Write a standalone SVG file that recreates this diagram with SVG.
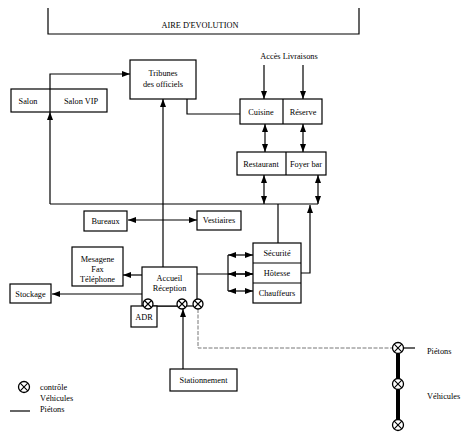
<svg xmlns="http://www.w3.org/2000/svg" width="471" height="439" viewBox="0 0 471 439">
<defs>
<marker id="ah" viewBox="0 0 8 6" refX="8" refY="3" markerWidth="8" markerHeight="6" markerUnits="userSpaceOnUse" orient="auto-start-reverse">
<path d="M0,0 L8,3 L0,6 z" fill="#000"/>
</marker>
<style>
rect.b{fill:#fff;stroke:#000;stroke-width:1.2}
text{font-family:"Liberation Serif","DejaVu Serif",serif;font-size:8.3px;fill:#000;text-anchor:middle}
.l{stroke:#000;stroke-width:1.2;fill:none}
.a{marker-end:url(#ah)}
.d{marker-start:url(#ah);marker-end:url(#ah)}
.x circle{fill:#fff;stroke:#000;stroke-width:1.3}
.x path{stroke:#000;stroke-width:1.1}
</style>
</defs>
<rect width="471" height="439" fill="#fff"/>

<g id="aire">
<path class="l" d="M48,8 V34 H359 V8"/>
<text x="200" y="28">AIRE D'EVOLUTION</text>
</g>

<g id="connectors">
<path class="l a" d="M50,89 V74 H130"/>
<path class="l a" d="M50,204 V112"/>
<path class="l" d="M50,204 H318"/>
<path class="l a" d="M163,267 V99"/>
<path class="l" d="M187,99 V114 H240"/>
<path class="l a" d="M264,65 V99"/>
<path class="l a" d="M303,65 V99"/>
<path class="l d" d="M265,124 V152"/>
<path class="l d" d="M303,124 V152"/>
<path class="l d" d="M264,175 V204"/>
<path class="l d" d="M318,175 V204"/>
<path class="l d" d="M128,220 H197"/>
<path class="l a" d="M142,275 H123"/>
<path class="l a" d="M142,294 H52"/>
<path class="l a" d="M197,274 H253" stroke-width="1.6"/>
<path class="l" d="M228,255 V291"/>
<path class="l d" d="M228,255 H253"/>
<path class="l d" d="M228,274 H253"/>
<path class="l d" d="M228,291 H253"/>
<path class="l" d="M278,204 V243"/>
<path class="l a" d="M301,273 H310 V205"/>
<path class="l" d="M153,306 H177"/>
<path class="l a" d="M183,369 V309"/>
<path stroke="#777" stroke-width="1" fill="none" stroke-dasharray="4,1.5" d="M198,309 V348 H393"/>
<path stroke="#000" stroke-width="4" d="M398,353 V420"/>
<path class="l" d="M403,348 H415"/>
<path class="l" d="M10,411 H30"/>
</g>

<g id="salon">
<rect class="b" x="11" y="89" width="96" height="23"/>
<line class="l" x1="50" y1="89" x2="50" y2="112"/>
<text x="28" y="104">Salon</text>
<text x="81" y="104">Salon VIP</text>
</g>

<g id="tribunes">
<rect class="b" x="130" y="60" width="66" height="39"/>
<text x="163" y="76">Tribunes</text>
<text x="163" y="87">des officiels</text>
</g>

<g id="livraisons">
<text x="289" y="59">Accès Livraisons</text>
</g>

<g id="cuisine">
<rect class="b" x="240" y="99" width="82" height="25"/>
<line class="l" x1="283" y1="99" x2="283" y2="124"/>
<text x="261" y="115">Cuisine</text>
<text x="303" y="115">Réserve</text>
</g>

<g id="restaurant">
<rect class="b" x="237" y="152" width="89" height="23"/>
<line class="l" x1="286" y1="152" x2="286" y2="175"/>
<text x="261" y="167">Restaurant</text>
<text x="306" y="167">Foyer bar</text>
</g>

<g id="bureaux">
<rect class="b" x="84" y="211" width="43" height="20"/>
<text x="105.5" y="224">Bureaux</text>
</g>

<g id="vestiaires">
<rect class="b" x="197" y="211" width="44" height="19"/>
<text x="219" y="223">Vestiaires</text>
</g>

<g id="mesagerie">
<rect class="b" x="72" y="247" width="51" height="39"/>
<text x="97.5" y="262">Mesagene</text>
<text x="97.5" y="272">Fax</text>
<text x="97.5" y="282">Téléphone</text>
</g>

<g id="stockage">
<rect class="b" x="10" y="284" width="41" height="19"/>
<text x="30.5" y="297">Stockage</text>
</g>

<g id="accueil">
<rect class="b" x="142" y="267" width="55" height="39"/>
<text x="169.5" y="281">Accueil</text>
<text x="169.5" y="291">Réception</text>
</g>

<g id="adr">
<rect class="b" x="131" y="306" width="26" height="21"/>
<text x="144" y="320">ADR</text>
</g>

<g id="securite">
<rect class="b" x="253" y="243" width="48" height="60"/>
<line class="l" x1="253" y1="263" x2="301" y2="263"/>
<line class="l" x1="253" y1="283" x2="301" y2="283"/>
<text x="277" y="256">Sécurité</text>
<text x="277" y="276">Hôtesse</text>
<text x="277" y="296">Chauffeurs</text>
</g>

<g id="stationnement">
<rect class="b" x="170" y="369" width="67" height="22"/>
<text x="203.5" y="383">Stationnement</text>
</g>

<g id="controles" class="x">
<g transform="translate(148,304)"><circle r="5"/><path d="M-3.5,-3.5 L3.5,3.5 M-3.5,3.5 L3.5,-3.5"/></g>
<g transform="translate(182,304)"><circle r="5"/><path d="M-3.5,-3.5 L3.5,3.5 M-3.5,3.5 L3.5,-3.5"/></g>
<g transform="translate(198,304)"><circle r="5"/><path d="M-3.5,-3.5 L3.5,3.5 M-3.5,3.5 L3.5,-3.5"/></g>
<g transform="translate(398,348)"><circle r="5.5"/><path d="M-3.8,-3.8 L3.8,3.8 M-3.8,3.8 L3.8,-3.8"/></g>
<g transform="translate(398,384)"><circle r="5.5"/><path d="M-3.8,-3.8 L3.8,3.8 M-3.8,3.8 L3.8,-3.8"/></g>
<g transform="translate(398,425)"><circle r="5.5"/><path d="M-3.8,-3.8 L3.8,3.8 M-3.8,3.8 L3.8,-3.8"/></g>
</g>

<g id="labels">
<text x="427" y="354" style="text-anchor:start">Piétons</text>
<text x="427" y="399" style="text-anchor:start">Véhicules</text>
</g>

<g id="legende">
<g class="x" transform="translate(24,387)"><circle r="5.5"/><path d="M-3.8,-3.8 L3.8,3.8 M-3.8,3.8 L3.8,-3.8"/></g>
<text x="40" y="390" style="text-anchor:start">contrôle</text>
<text x="40" y="401" style="text-anchor:start">Véhicules</text>
<text x="40" y="412" style="text-anchor:start">Piétons</text>
</g>
</svg>
